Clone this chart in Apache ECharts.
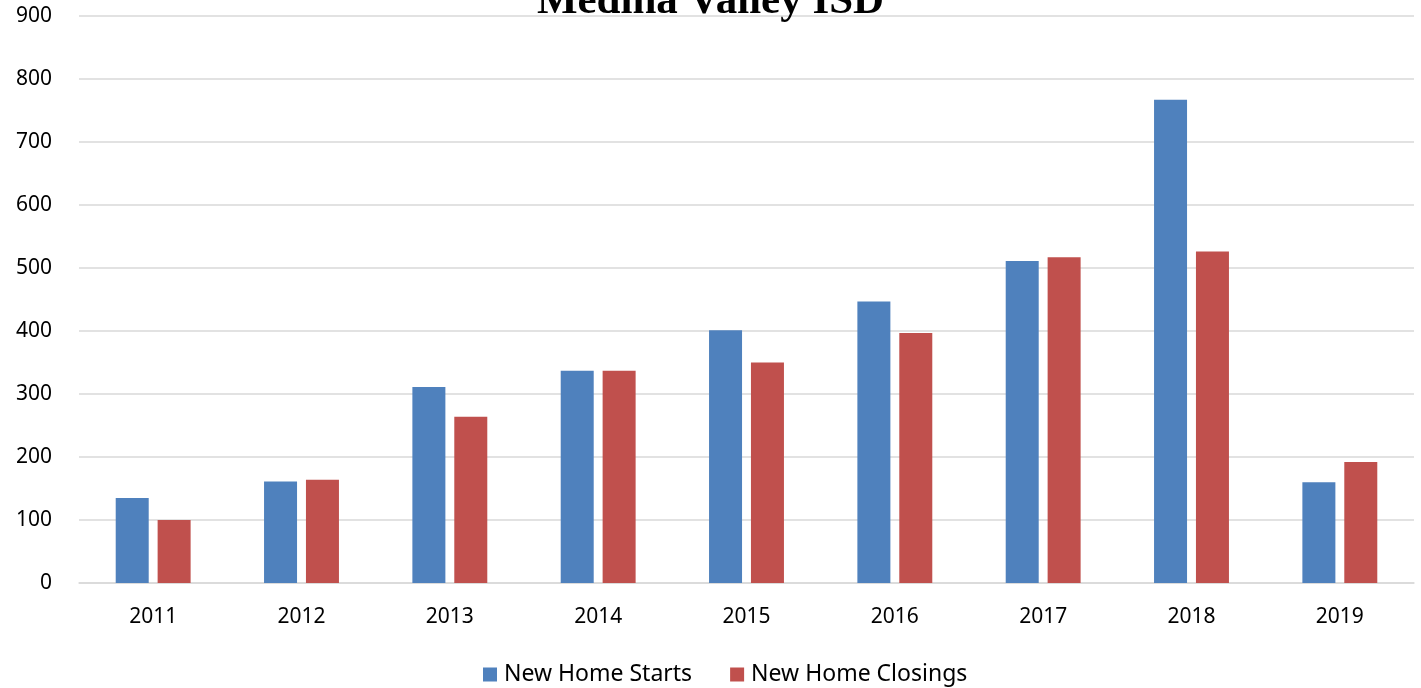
<!DOCTYPE html>
<html>
<head>
<meta charset="utf-8">
<script src="https://cdn.jsdelivr.net/npm/echarts@6/dist/echarts.min.js"></script>
<style>html,body{margin:0;padding:0;background:#fff}#c{width:1421px;height:688px}</style>
</head>
<body>
<div id="c"></div>
<script>
const titleText = 'Medina Valley ISD';
const years = ['2011','2012','2013','2014','2015','2016','2017','2018','2019'];
const seriesNames = ['New Home Starts','New Home Closings'];
const starts = [135, 161, 311, 337, 401, 447, 511, 767, 160];
const closings = [100, 164, 264, 337, 350, 397, 517, 526, 192];

const chart = echarts.init(document.getElementById('c'), null, {renderer:'canvas'});
const font = '"Noto Sans", "Open Sans", sans-serif';
chart.setOption({
  animation: false,
  title: {
    text: titleText,
    left: 'center',
    top: -25,
    textStyle: {fontFamily: '"Liberation Serif", "Times New Roman", serif', fontWeight: 'bold', fontSize: 43, color: '#000', lineHeight: 43}
  },
  legend: {
    data: seriesNames,
    bottom: -3,
    left: 478,
    itemWidth: 14,
    itemHeight: 14,
    itemGap: 38,
    icon: 'rect',
    textStyle: {fontFamily: font, fontSize: 23, color: '#000', padding: [0, 0, 0, 2]}
  },
  grid: {left: 79, right: 7, top: 16, bottom: 105, containLabel: false},
  xAxis: {
    type: 'category',
    data: years,
    axisLine: {show: true, lineStyle: {color: '#d9d9d9', width: 1.5}},
    axisTick: {show: false},
    axisLabel: {fontFamily: font, fontSize: 21, color: '#000', margin: 24}
  },
  yAxis: {
    type: 'value',
    min: 0, max: 900, interval: 100,
    axisLine: {show: false},
    axisTick: {show: false},
    splitLine: {lineStyle: {color: '#d9d9d9', width: 1.5}},
    axisLabel: {fontFamily: font, fontSize: 21, color: '#000', margin: 27}
  },
  series: [
    {name: seriesNames[0], type: 'bar', data: starts, barWidth: 33, barGap: '27%', itemStyle: {color: '#4F81BD'}},
    {name: seriesNames[1], type: 'bar', data: closings, barWidth: 33, barGap: '27%', itemStyle: {color: '#C0504D'}}
  ]
});
</script>
</body>
</html>
